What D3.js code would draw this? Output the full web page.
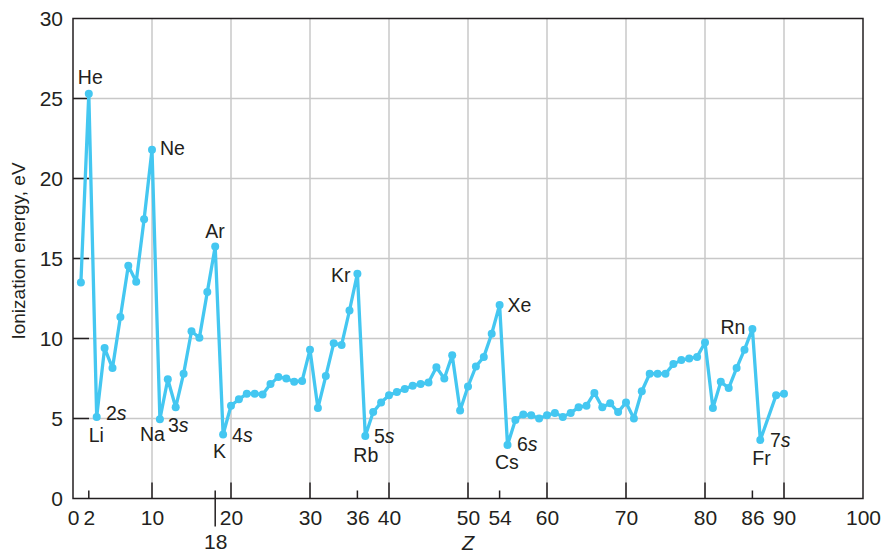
<!DOCTYPE html>
<html>
<head>
<meta charset="utf-8">
<script src="https://cdn.jsdelivr.net/npm/d3@7"></script>
<style>
  body { margin: 0; background: #ffffff; }
  svg { display: block; }
  text { font-family: "Liberation Sans", Arial, Helvetica, sans-serif; fill: #231f20; }
</style>
</head>
<body>
<svg id="chart" width="883" height="555"></svg>
<script>
// ---------------- data ----------------
const atomicNumbers = [
  1, 2, 3, 4, 5, 6, 7, 8, 9, 10,
  11, 12, 13, 14, 15, 16, 17, 18, 19, 20,
  21, 22, 23, 24, 25, 26, 27, 28, 29, 30,
  31, 32, 33, 34, 35, 36, 37, 38, 39, 40,
  41, 42, 43, 44, 45, 46, 47, 48, 49, 50,
  51, 52, 53, 54, 55, 56, 57, 58, 59, 60,
  61, 62, 63, 64, 65, 66, 67, 68, 69, 70,
  71, 72, 73, 74, 75, 76, 77, 78, 79, 80,
  81, 82, 83, 84, 85, 86, 87, 89, 90
];
const ionizationEnergies = [
  13.5, 25.3, 5.1, 9.4, 8.15, 11.35, 14.55, 13.55, 17.45, 21.8,
  4.95, 7.45, 5.7, 7.8, 10.45, 10.05, 12.9, 15.75, 4.0, 5.8,
  6.2, 6.55, 6.55, 6.5, 7.15, 7.6, 7.5, 7.3, 7.35, 9.3,
  5.65, 7.65, 9.7, 9.6, 11.75, 14.05, 3.9, 5.4, 6.0, 6.45,
  6.65, 6.85, 7.05, 7.15, 7.25, 8.2, 7.5, 8.95, 5.5, 7.0,
  8.25, 8.85, 10.3, 12.1, 3.35, 4.9, 5.25, 5.2, 5.0, 5.2,
  5.35, 5.1, 5.35, 5.7, 5.8, 6.6, 5.7, 5.95, 5.4, 6.0,
  5.0, 6.7, 7.8, 7.8, 7.8, 8.4, 8.65, 8.75, 8.85, 9.75,
  5.65, 7.3, 6.9, 8.15, 9.3, 10.6, 3.65, 6.45, 6.55
];
const nobleGasSymbols = ["He", "Ne", "Ar", "Kr", "Xe", "Rn"];
const nobleGasZ = [2, 10, 18, 36, 54, 86];
const alkaliSymbols = ["Li", "Na", "K", "Rb", "Cs", "Fr"];
const alkaliZ = [3, 11, 19, 37, 55, 87];
const shellNumbers = ["2", "3", "4", "5", "6", "7"];

const xLabelValues = [0, 2, 10, 20, 30, 36, 40, 50, 54, 60, 70, 80, 86, 90, 100];
const xMajorTicks = [10, 20, 30, 40, 50, 60, 70, 80, 90];
const xMinorTicks = [2, 36, 54, 86];
const xLowerLabel = [18];
const yTickValues = [0, 5, 10, 15, 20, 25, 30];
const yGridValues = [5, 10, 15, 20, 25];

// ---------------- layout ----------------
const plotLeft = 73, plotRight = 863, plotTop = 18.5, plotBottom = 498.5;
const ink = "#231f20", gridColor = "#c8c8c8", lineColor = "#44c7f1";

const svg = d3.select("#chart");
const x = d3.scaleLinear().domain([0, 100]).range([plotLeft, plotRight]);
const y = d3.scaleLinear().domain([0, 30]).range([plotBottom, plotTop]);

// grid
svg.append("g").selectAll("line").data(xMajorTicks).join("line")
  .attr("x1", d => x(d)).attr("x2", d => x(d))
  .attr("y1", plotTop).attr("y2", plotBottom)
  .attr("stroke", gridColor).attr("stroke-width", 1.5);
svg.append("g").selectAll("line").data(yGridValues).join("line")
  .attr("x1", plotLeft).attr("x2", plotRight)
  .attr("y1", d => y(d)).attr("y2", d => y(d))
  .attr("stroke", gridColor).attr("stroke-width", 1.5);

// inward ticks
const tickG = svg.append("g").attr("stroke", ink).attr("stroke-width", 1.5);
tickG.selectAll(".xmaj").data(xMajorTicks).join("line").attr("class", "xmaj")
  .attr("x1", d => x(d)).attr("x2", d => x(d))
  .attr("y1", plotBottom).attr("y2", plotBottom - 16);
tickG.selectAll(".xmin").data(xMinorTicks).join("line").attr("class", "xmin")
  .attr("x1", d => x(d)).attr("x2", d => x(d))
  .attr("y1", plotBottom).attr("y2", plotBottom - 8);
tickG.selectAll(".xlow").data(xLowerLabel).join("line").attr("class", "xlow")
  .attr("x1", d => x(d)).attr("x2", d => x(d))
  .attr("y1", plotBottom - 8).attr("y2", plotBottom + 28);
tickG.selectAll(".ymaj").data(yGridValues).join("line").attr("class", "ymaj")
  .attr("x1", plotLeft).attr("x2", plotLeft + 16)
  .attr("y1", d => y(d)).attr("y2", d => y(d));

// frame
svg.append("rect")
  .attr("x", plotLeft).attr("y", plotTop)
  .attr("width", plotRight - plotLeft).attr("height", plotBottom - plotTop)
  .attr("fill", "none").attr("stroke", ink).attr("stroke-width", 1.5);

// axis labels via d3 axes
const xAxis = svg.append("g").attr("transform", `translate(0,${plotBottom})`)
  .call(d3.axisBottom(x).tickValues(xLabelValues).tickSize(0).tickPadding(12).tickFormat(d3.format("d")));
const xAxis2 = svg.append("g").attr("transform", `translate(0,${plotBottom})`)
  .call(d3.axisBottom(x).tickValues(xLowerLabel).tickSize(0).tickPadding(36).tickFormat(d3.format("d")));
const yAxis = svg.append("g").attr("transform", `translate(${plotLeft},0)`)
  .call(d3.axisLeft(y).tickValues(yTickValues).tickSize(0).tickPadding(10).tickFormat(d3.format("d")));
[xAxis, xAxis2, yAxis].forEach(g => {
  g.select(".domain").remove();
  g.selectAll("text").attr("font-size", 21).attr("fill", ink)
    .attr("font-family", "'Liberation Sans', Arial, Helvetica, sans-serif");
});

// axis titles
svg.append("text")
  .attr("transform", `translate(25,251) rotate(-90)`)
  .attr("text-anchor", "middle").attr("font-size", 19)
  .text("Ionization energy, eV");
svg.append("text")
  .attr("x", 468).attr("y", 550)
  .attr("text-anchor", "middle").attr("font-size", 20)
  .attr("font-style", "italic")
  .text("Z");

// series
const pts = atomicNumbers.map((z, i) => ({ z, e: ionizationEnergies[i] }));
const line = d3.line().x(d => x(d.z)).y(d => y(d.e));
svg.append("path").datum(pts)
  .attr("d", line).attr("fill", "none")
  .attr("stroke", lineColor).attr("stroke-width", 3.3)
  .attr("stroke-linejoin", "round");
svg.append("g").selectAll("circle").data(pts).join("circle")
  .attr("cx", d => x(d.z)).attr("cy", d => y(d.e)).attr("r", 4)
  .attr("fill", lineColor);

// annotations
const energyOf = z => ionizationEnergies[atomicNumbers.indexOf(z)];
const nobleOffsets = [[-11, -10, "start"], [8, 5, "start"], [-10, -9, "start"],
                      [-7, 8, "end"], [8, 7, "start"], [-7, 5, "end"]];
const alkaliOffsets = [[-8, 25, "start"], [5, 22, "end"], [-10, 23.5, "start"],
                       [-12, 25.6, "start"], [-12.5, 24, "start"], [-8, 25, "start"]];
const shellOffsets = [[9.3, 3], [8, 12.4], [9, 7.2], [8.7, 7], [9.5, 5.8], [9.7, 6.6]];

const annG = svg.append("g").attr("font-size", 19.5);
nobleGasSymbols.forEach((s, i) => {
  const z = nobleGasZ[i], o = nobleOffsets[i];
  annG.append("text").attr("x", x(z) + o[0]).attr("y", y(energyOf(z)) + o[1])
    .attr("text-anchor", o[2]).text(s);
});
alkaliSymbols.forEach((s, i) => {
  const z = alkaliZ[i], o = alkaliOffsets[i], so = shellOffsets[i];
  annG.append("text").attr("x", x(z) + o[0]).attr("y", y(energyOf(z)) + o[1])
    .attr("text-anchor", o[2]).text(s);
  const t = annG.append("text").attr("x", x(z) + so[0]).attr("y", y(energyOf(z)) + so[1]);
  t.append("tspan").text(shellNumbers[i]);
  t.append("tspan").attr("font-style", "italic").text("s");
});
</script>
</body>
</html>
